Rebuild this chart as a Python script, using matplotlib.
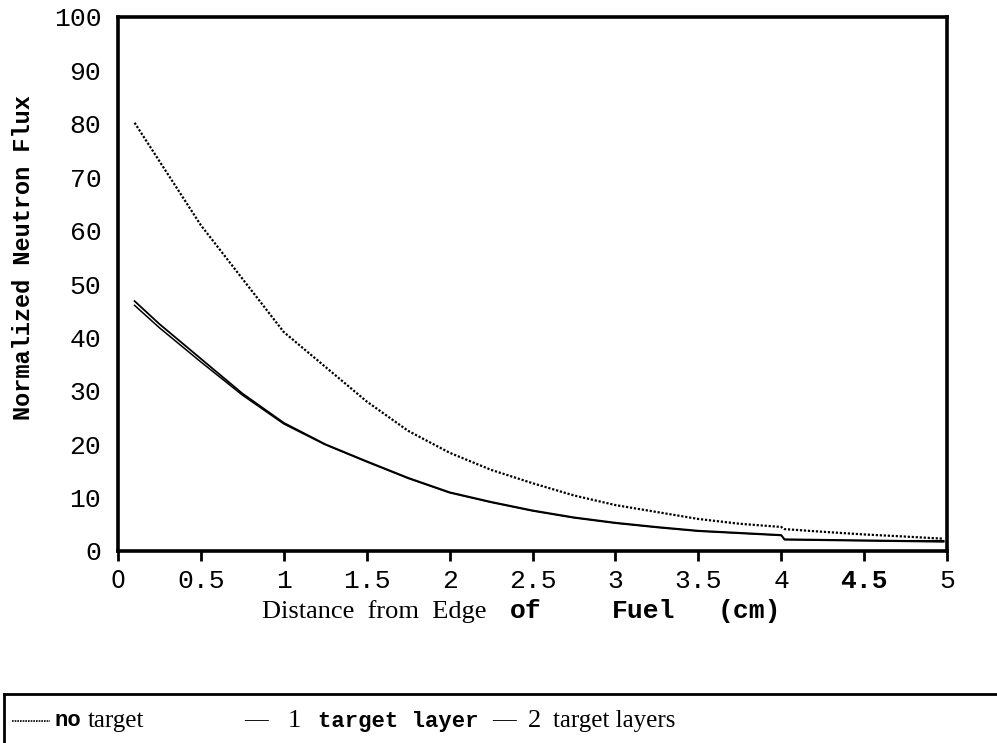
import numpy as np
import matplotlib
matplotlib.use('Agg')
import matplotlib.pyplot as plt
from matplotlib.lines import Line2D

# data
dist = [0.1, 0.25, 0.5, 0.75, 1.0, 1.25, 1.5, 1.75, 2.0, 2.25, 2.5, 2.75,
        3.0, 3.25, 3.5, 3.75, 4.0, 4.02, 4.25, 4.5, 4.75, 4.98]
no_target = [80.2, 73.0, 61.0, 51.0, 41.0, 34.5, 28.0, 22.5, 18.4, 15.2, 12.7, 10.4,
             8.6, 7.3, 6.0, 5.1, 4.5, 4.1, 3.6, 3.1, 2.7, 2.3]
one_layer = [46.8, 42.5, 36.0, 29.5, 24.0, 20.0, 16.8, 13.7, 11.0, 9.2, 7.6, 6.3,
             5.3, 4.5, 3.8, 3.4, 3.0, 2.2, 2.1, 2.0, 1.9, 1.9]
two_layers = [46.0, 41.8, 35.4, 29.2, 23.8, 19.9, 16.7, 13.6, 10.9, 9.1, 7.5, 6.2,
              5.2, 4.4, 3.7, 3.3, 2.9, 2.1, 2.0, 1.9, 1.8, 1.7]
xticks = [0, 0.5, 1, 1.5, 2, 2.5, 3, 3.5, 4, 4.5, 5]
xticklabels = ['0', '0.5', '1', '1.5', '2', '2.5', '3', '3.5', '4', '4.5', '5']
yticks = [0, 10, 20, 30, 40, 50, 60, 70, 80, 90, 100]

mono = 'Liberation Mono'
serif = 'Liberation Serif'

fig = plt.figure(figsize=(9.97, 7.43), dpi=100)
ax = fig.add_axes([118/997, 1-551/743, (947-118)/997, (551-17)/743])

ax.plot(dist, no_target, color='black', lw=1.6, linestyle=(0, (1, 0.8)))
ax.plot(dist, one_layer, color='black', lw=1.3)
ax.plot(dist, two_layers, color='black', lw=1.1)

ax.set_xlim(0, 5)
ax.set_ylim(0, 100)
for s in ax.spines.values():
    s.set_linewidth(2.6)

ax.set_xticks(xticks)
ax.set_xticklabels(xticklabels, family=mono, fontsize=19)
for lab in ax.get_xticklabels():
    if lab.get_text() == '4.5':
        lab.set_fontweight('bold')
    if lab.get_text() == '0':
        lab.set_fontsize(17)
        lab.set_family(['Liberation Sans Narrow', 'DejaVu Sans'])
ax.tick_params(axis='x', direction='out', length=7, width=2, pad=6)
ax.set_yticks(yticks)
ax.set_yticklabels([str(v) for v in yticks], family=mono, fontsize=19)
ax.tick_params(axis='y', length=0, pad=12)
ax.set_yticks([100], minor=True)
ax.tick_params(axis='y', which='minor', length=7, width=2)

fig.text(24/997, 1-258/743, 'Normalized Neutron Flux', family=mono,
         fontweight='bold', fontsize=17, rotation=90, ha='center', va='center')

# x label in mixed fonts
fig.text(262/997, 1-612/743, 'Distance  from  Edge', family=serif, fontsize=19,
         va='center', ha='left')
fig.text(510/997, 1-611/743, 'of', family=mono, fontweight='bold', fontsize=19,
         va='center', ha='left')
fig.text(612/997, 1-611/743, 'Fuel', family=mono, fontweight='bold', fontsize=19,
         va='center', ha='left')
fig.text(718/997, 1-611/743, '(cm)', family=mono, fontweight='bold', fontsize=19,
         va='center', ha='left')

# legend box at the bottom
fig.add_artist(Line2D([4/997, 1], [1-694/743, 1-694/743], color='black', lw=2,
                      transform=fig.transFigure))
fig.add_artist(Line2D([4/997, 4/997], [0, 1-694/743], color='black', lw=2,
                      transform=fig.transFigure))
fig.add_artist(Line2D([12/997, 50/997], [1-721/743, 1-721/743], color='black',
                      lw=1.2, linestyle=(0, (1, 0.6)), transform=fig.transFigure))
ly = 1 - 721/743
fig.text(54/997, ly, 'no', family=mono, fontweight='bold', fontsize=16, va='center')
fig.text(88/997, ly, 'target', family=serif, fontsize=18, va='center')
fig.text(244/997, ly, '—', family=serif, fontsize=17, va='center')
fig.text(288/997, ly, '1', family=serif, fontsize=19, va='center')
fig.text(318/997, ly, 'target layer', family=mono, fontweight='bold', fontsize=16,
         va='center')
fig.text(492/997, ly, '—', family=serif, fontsize=17, va='center')
fig.text(528/997, ly, '2', family=serif, fontsize=19, va='center')
fig.text(553/997, ly, 'target layers', family=serif, fontsize=18, va='center')

fig.savefig('out.png', dpi=100)
